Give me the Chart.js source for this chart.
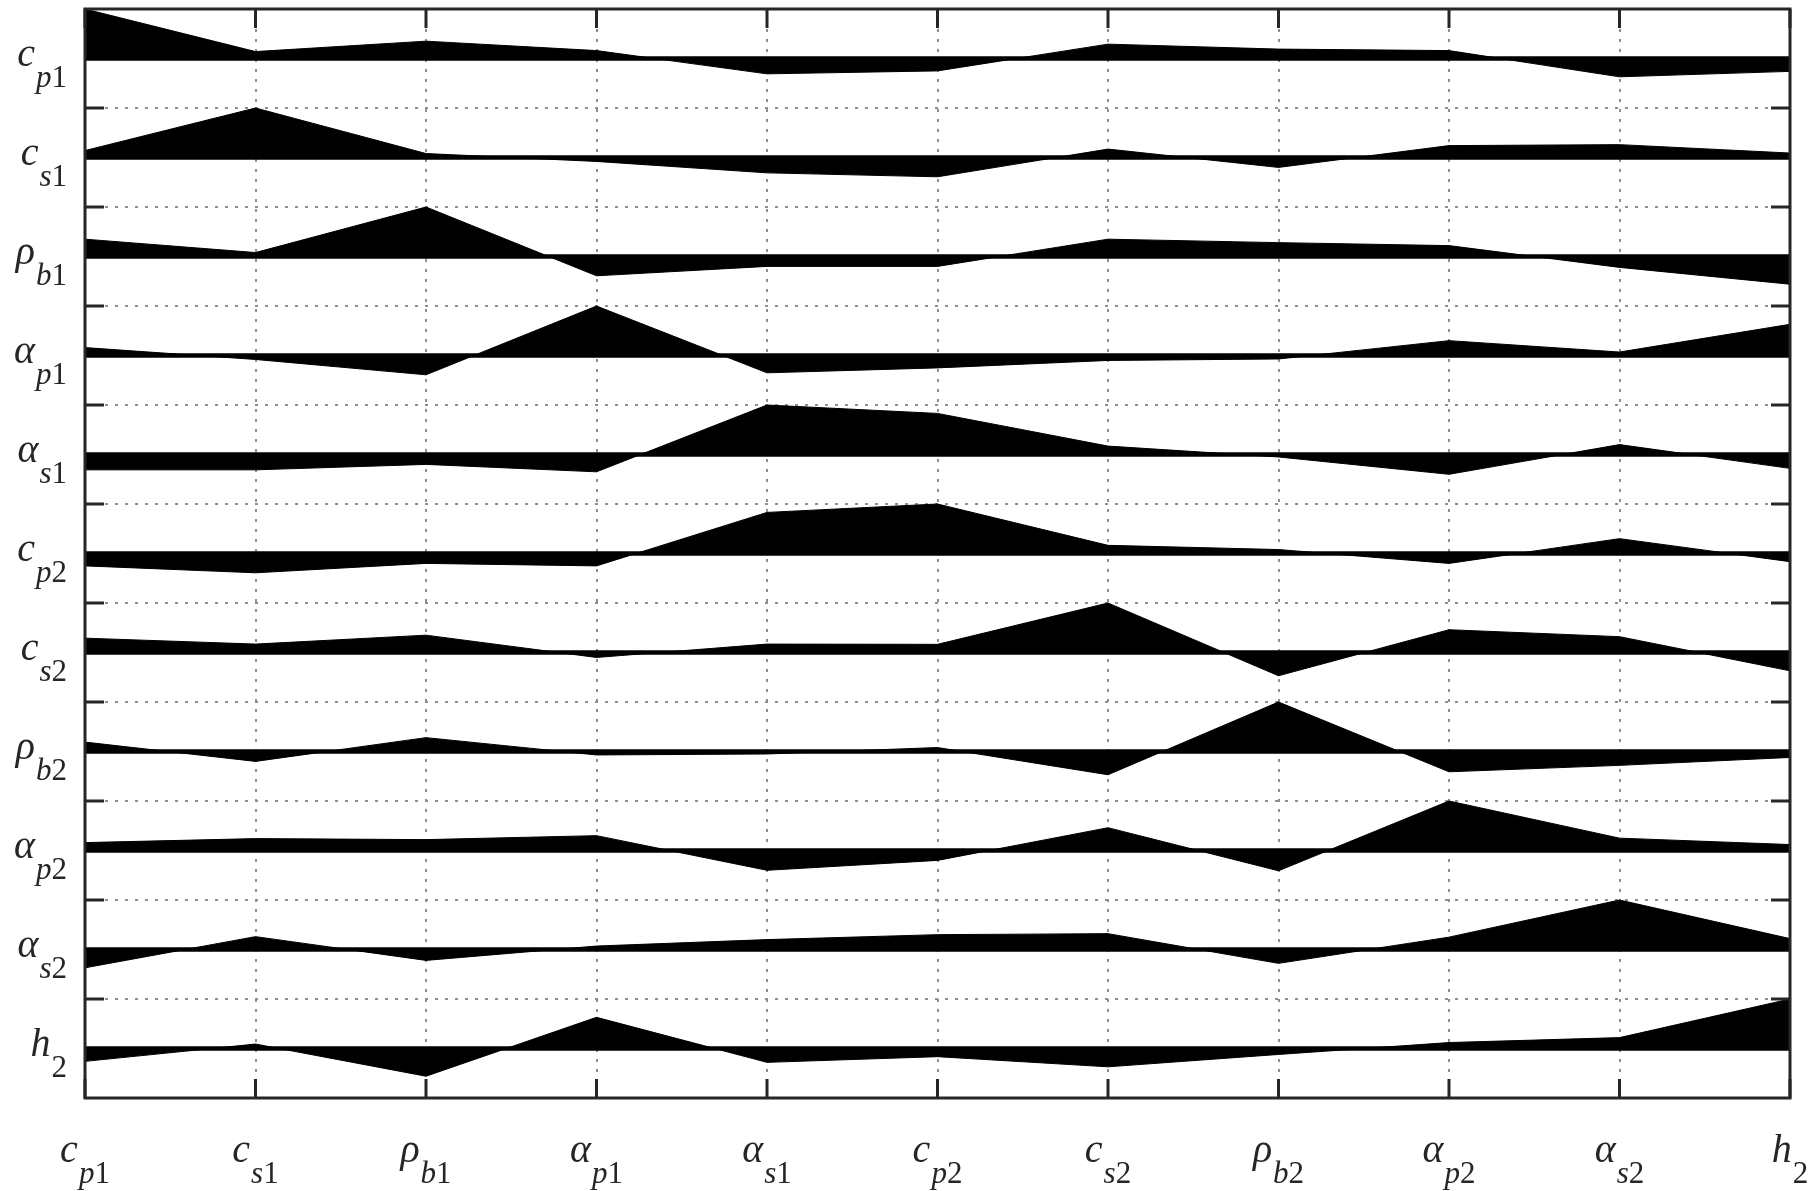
<!DOCTYPE html>
<html>
<head>
<meta charset="utf-8">
<script src="https://cdn.jsdelivr.net/npm/chart.js@4.4.1/dist/chart.umd.min.js"></script>
<style>
    html, body { margin: 0; padding: 0; background: #fff; }
</style>
</head>
<body>
<canvas id="corrChart" width="1816" height="1191"></canvas>
<script>
// variable names as [symbol, subscript]
const params = [
    ['c', 'p1'], ['c', 's1'], ['ρ', 'b1'], ['α', 'p1'], ['α', 's1'], ['c', 'p2'],
    ['c', 's2'], ['ρ', 'b2'], ['α', 'p2'], ['α', 's2'], ['h', '2']
];
const labels = params.map(p => p[0] + '_' + p[1]);

// correlation of each row variable with every column variable
const cp1 = [1, 0.14, 0.35, 0.16, -0.31, -0.25, 0.29, 0.19, 0.16, -0.37, -0.26];
const cs1 = [0.14, 1, 0.08, -0.08, -0.31, -0.39, 0.17, -0.2, 0.24, 0.26, 0.09];
const rhob1 = [0.35, 0.08, 1, -0.39, -0.2, -0.2, 0.35, 0.28, 0.22, -0.22, -0.56];
const alphap1 = [0.16, -0.08, -0.39, 1, -0.35, -0.25, -0.1, -0.07, 0.3, 0.07, 0.63];
const alphas1 = [-0.31, -0.31, -0.2, -0.35, 1, 0.83, 0.17, -0.05, -0.4, 0.2, -0.28];
const cp2 = [-0.25, -0.39, -0.2, -0.25, 0.83, 1, 0.165, 0.08, -0.2, 0.3, -0.165];
const cs2 = [0.29, 0.17, 0.35, -0.1, 0.17, 0.165, 1, -0.47, 0.46, 0.32, -0.37];
const rhob2 = [0.19, -0.2, 0.28, -0.07, -0.05, 0.08, -0.47, 1, -0.41, -0.28, -0.12];
const alphap2 = [0.16, 0.24, 0.22, 0.3, -0.4, -0.2, 0.46, -0.41, 1, 0.25, 0.12];
const alphas2 = [-0.37, 0.26, -0.22, 0.07, 0.2, 0.3, 0.32, -0.28, 0.25, 1, 0.22];
const h2 = [-0.26, 0.09, -0.56, 0.63, -0.28, -0.165, -0.37, -0.12, 0.12, 0.22, 1];

const rows = [cp1, cs1, rhob1, alphap1, alphas1, cp2, cs2, rhob2, alphap2, alphas2, h2];

const INK = '#262626';
const SERIF = '"Liberation Serif", "Times New Roman", Times, serif';
const BASE_FONT = 'italic 40px ' + SERIF;
const SUB_FONT = 'italic 31px ' + SERIF;
const SUB_DIGIT_FONT = '31px ' + SERIF;

// each row gets a band 2 units tall, its zero sits in the middle
const rowOffset = i => 2 * (rows.length - i) - 1;

const datasets = [];
rows.forEach((row, i) => {
    const off = rowOffset(i);
    datasets.push({
        data: row.map(v => off + v),
        fill: { value: off },
        backgroundColor: '#000',
        borderColor: '#000',
        borderWidth: 1,
        pointRadius: 0,
        tension: 0
    });
    datasets.push({
        data: row.map(() => off),
        fill: false,
        borderColor: '#000',
        borderWidth: 4.5,
        pointRadius: 0
    });
});

function drawSubLabel(ctx, base, sub, x, y, align) {
    const letters = sub.replace(/[0-9]/g, '');
    const digits = sub.replace(/[^0-9]/g, '');
    ctx.font = BASE_FONT;
    const wb = ctx.measureText(base).width;
    ctx.font = SUB_FONT;
    const wl = ctx.measureText(letters).width;
    ctx.font = SUB_DIGIT_FONT;
    const wd = ctx.measureText(digits).width;
    const gap = 1;
    const total = wb + gap + wl + wd;
    const x0 = align === 'right' ? x - total : x - total / 2;
    ctx.fillStyle = INK;
    ctx.textAlign = 'left';
    ctx.textBaseline = 'alphabetic';
    ctx.font = BASE_FONT;
    ctx.fillText(base, x0, y);
    ctx.font = SUB_FONT;
    ctx.fillText(letters, x0 + wb + gap, y + 20.5);
    ctx.font = SUB_DIGIT_FONT;
    ctx.fillText(digits, x0 + wb + gap + wl, y + 20.5);
}

// box, inward ticks and subscripted labels
const framePlugin = {
    id: 'frame',
    afterDraw(chart) {
        const { ctx, chartArea: a, scales: { x, y } } = chart;
        const tl = 19;
        ctx.save();
        ctx.strokeStyle = INK;
        ctx.lineWidth = 3;
        ctx.strokeRect(a.left, a.top, a.right - a.left, a.bottom - a.top);
        ctx.beginPath();
        labels.forEach((_, j) => {
            const px = x.getPixelForValue(j);
            ctx.moveTo(px, a.top); ctx.lineTo(px, a.top + tl);
            ctx.moveTo(px, a.bottom); ctx.lineTo(px, a.bottom - tl);
        });
        for (let v = 2; v < rows.length * 2; v += 2) {
            const py = y.getPixelForValue(v);
            ctx.moveTo(a.left, py); ctx.lineTo(a.left + tl, py);
            ctx.moveTo(a.right, py); ctx.lineTo(a.right - tl, py);
        }
        ctx.stroke();

        params.forEach((p, i) => {
            const py = y.getPixelForValue(rowOffset(i));
            drawSubLabel(ctx, p[0], p[1], a.left - 18, py + 7.5, 'right');
            const px = x.getPixelForValue(i);
            drawSubLabel(ctx, p[0], p[1], px, a.bottom + 64, 'center');
        });
        ctx.restore();
    }
};

new Chart(document.getElementById('corrChart'), {
    type: 'line',
    data: { labels: labels, datasets: datasets },
    plugins: [framePlugin],
    options: {
        responsive: false,
        animation: false,
        layout: { padding: { left: 85, right: 26, top: 9, bottom: 93 } },
        plugins: {
            legend: { display: false },
            tooltip: { enabled: false }
        },
        scales: {
            x: {
                offset: false,
                afterFit: s => { s.height = 0; },
                ticks: { display: false },
                grid: {
                    drawTicks: false,
                    lineWidth: 2,
                    color: c => (c.index === 0 || c.index === labels.length - 1) ? 'rgba(0,0,0,0)' : '#8f8f8f'
                },
                border: { display: false, dash: [3, 7] }
            },
            y: {
                min: 0,
                max: rows.length * 2,
                afterFit: s => { s.width = 0; },
                ticks: { display: false, stepSize: 2 },
                grid: {
                    drawTicks: false,
                    lineWidth: 2,
                    color: c => (c.tick.value === 0 || c.tick.value === rows.length * 2) ? 'rgba(0,0,0,0)' : '#8f8f8f'
                },
                border: { display: false, dash: [3, 7] }
            }
        }
    }
});
</script>
</body>
</html>
